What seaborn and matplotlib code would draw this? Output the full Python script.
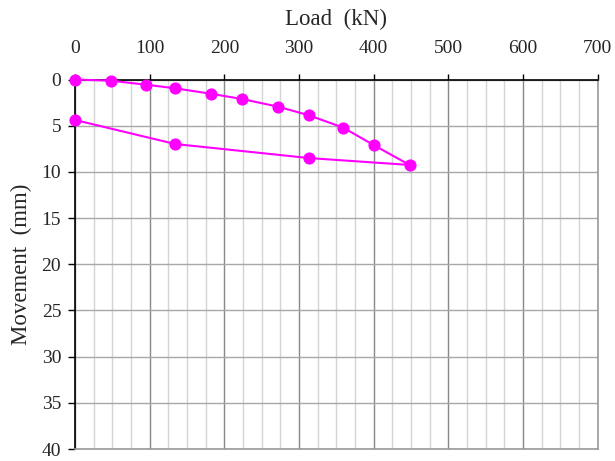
import matplotlib
matplotlib.use("Agg")
import matplotlib.pyplot as plt
import numpy as np
import pandas as pd
import seaborn as sns
from matplotlib.ticker import MultipleLocator

# load test readings: loading branch then unloading branch
load_kn = [0, 48, 95, 134, 182, 223, 272, 313, 359, 400, 448, 313, 134, 0]
movement_mm = [0, 0.13, 0.56, 0.95, 1.54, 2.1, 2.94, 3.87, 5.2, 7.1, 9.25, 8.5, 6.98, 4.38]

df = pd.DataFrame({"Load": load_kn, "Movement": movement_mm})

sns.set_style("white")
plt.rcParams['font.family'] = ['Liberation Serif', 'DejaVu Serif']

fig = plt.figure(figsize=(6.15, 4.61), dpi=100)
ax = fig.add_axes([0.122, 0.026, 0.85, 0.8015])

sns.lineplot(data=df, x="Load", y="Movement", sort=False, estimator=None,
             color="#FF00FF", linewidth=1.5, marker="o", markersize=8,
             markeredgecolor="#FF00FF", ax=ax, zorder=5, clip_on=False)

ax.set_xlim(0, 700)
ax.set_ylim(40, 0)
ax.xaxis.set_major_locator(MultipleLocator(100))
ax.xaxis.set_minor_locator(MultipleLocator(25))
ax.yaxis.set_major_locator(MultipleLocator(5))

ax.grid(which="minor", axis="x", color="#d4d4d4", linewidth=1.0)
ax.grid(which="major", axis="x", color="#888888", linewidth=1.0)
ax.grid(which="major", axis="y", color="#a8a8a8", linewidth=1.0)
ax.set_axisbelow(True)

ax.xaxis.tick_top()
ax.xaxis.set_label_position("top")
ax.tick_params(axis="x", which="major", direction="out", length=4, width=1,
               color="black", labelsize=14, pad=12)
ax.tick_params(axis="x", which="minor", length=0)
ax.tick_params(axis="y", direction="out", length=5, width=1, color="black",
               labelsize=14, left=True, pad=5)

ax.set_xlabel("Load  (kN)", fontsize=16.5, labelpad=11)
ax.set_ylabel("Movement  (mm)", fontsize=16.5, labelpad=7)

ax.spines["top"].set_color("black")
ax.spines["left"].set_color("black")
ax.spines["right"].set_color("#999999")
ax.spines["bottom"].set_color("#999999")
for s in ax.spines.values():
    s.set_linewidth(1.2)

fig.savefig("out.png", dpi=100)
